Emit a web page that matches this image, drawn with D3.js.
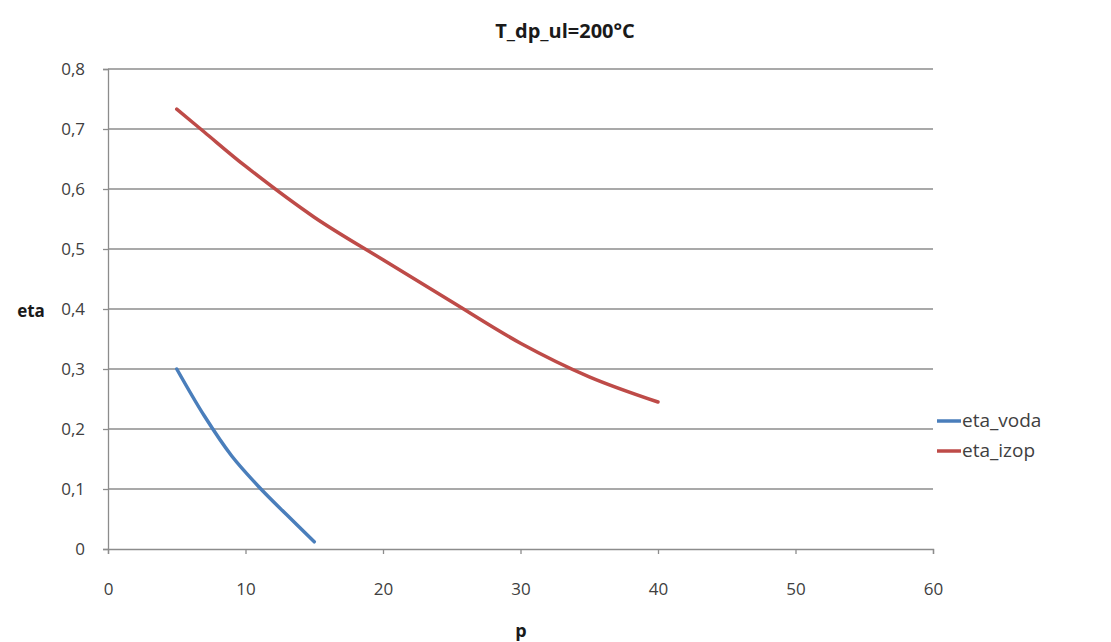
<!DOCTYPE html>
<html><head><meta charset="utf-8">
<script src="https://cdn.jsdelivr.net/npm/d3@7"></script>
<style>
body{margin:0;background:#fff;}
text{font-family:"Open Sans","Liberation Sans",sans-serif;}
</style></head>
<body><svg id="c" width="1111" height="642"></svg>
<script>
const title = "T_dp_ul=200°C";
const xLabel = "p";
const yLabel = "eta";
const xTicks = [0,10,20,30,40,50,60];
const yTicks = [0,0.1,0.2,0.3,0.4,0.5,0.6,0.7,0.8];
const seriesNames = ["eta_voda","eta_izop"];
const vodaP = [5,7,9,11,13,15];
const vodaEta = [0.30,0.222,0.155,0.103,0.057,0.012];
const izopP = [5,7,10,15,20,25,30,35,40];
const izopEta = [0.733,0.695,0.638,0.553,0.482,0.412,0.343,0.287,0.245];
const colors = ["#4a7ebb","#be4b48"];

const svg = d3.select("#c");
const m = {l:108, r:933, t:69, b:549};
const x = d3.scaleLinear().domain([0,60]).range([m.l,m.r]);
const y = d3.scaleLinear().domain([0,0.8]).range([m.b,m.t]);
const loc = d3.formatLocale({decimal:",",thousands:".",grouping:[3],currency:["",""]});
const fy = v => v===0 ? "0" : loc.format(".1f")(v);
const grid = "#8c8c8c";
const lab = "#404040";

// gridlines
svg.append("g").selectAll("line").data(yTicks.filter(d=>d>0)).join("line")
  .attr("x1",m.l).attr("x2",m.r).attr("y1",d=>y(d)).attr("y2",d=>y(d))
  .attr("stroke",grid).attr("stroke-width",1.3);

// y axis
const ya = svg.append("g").attr("transform",`translate(${m.l},0)`)
  .call(d3.axisLeft(y).tickValues(yTicks).tickFormat(fy).tickSizeOuter(0).tickSize(5).tickPadding(18));
// x axis
const xa = svg.append("g").attr("transform",`translate(0,${m.b})`)
  .call(d3.axisBottom(x).tickValues(xTicks).tickSizeOuter(0).tickSize(5).tickPadding(29));
[ya,xa].forEach(a=>{
  a.attr("font-size",null).attr("font-family",null);
  a.select(".domain").attr("stroke",grid).attr("stroke-width",1.3);
  a.selectAll(".tick line").attr("stroke",grid).attr("stroke-width",1.3);
  a.selectAll(".tick text").attr("fill",lab).style("font-size","17px");
});

// lines
const line = d3.line().x(d=>x(d[0])).y(d=>y(d[1])).curve(d3.curveCatmullRom.alpha(0.5));
const data = [d3.zip(vodaP,vodaEta), d3.zip(izopP,izopEta)];
svg.append("g").selectAll("path").data(data).join("path")
  .attr("d",line).attr("fill","none")
  .attr("stroke",(d,i)=>colors[i]).attr("stroke-width",3.5).attr("stroke-linecap","round");

// title and axis labels
svg.append("text").attr("x",565).attr("y",38).attr("text-anchor","middle")
  .style("font-size","20px").style("font-weight","bold").attr("fill","#1a1a1a").text(title);
svg.append("text").attr("x",521).attr("y",637).attr("text-anchor","middle")
  .style("font-size","18px").style("font-weight","bold").attr("fill","#1a1a1a").text(xLabel);
svg.append("text").attr("x",31).attr("y",317).attr("text-anchor","middle")
  .style("font-size","17px").style("font-weight","bold").attr("fill","#1a1a1a").text(yLabel);

// legend
const lg = svg.append("g").selectAll("g").data(seriesNames).join("g")
  .attr("transform",(d,i)=>`translate(937,${421+i*30})`);
lg.append("line").attr("x1",0).attr("x2",24).attr("stroke",(d,i)=>colors[i]).attr("stroke-width",3.5);
lg.append("text").attr("x",25).attr("y",6).style("font-size","19px").attr("fill",lab).text(d=>d);
</script></body></html>
